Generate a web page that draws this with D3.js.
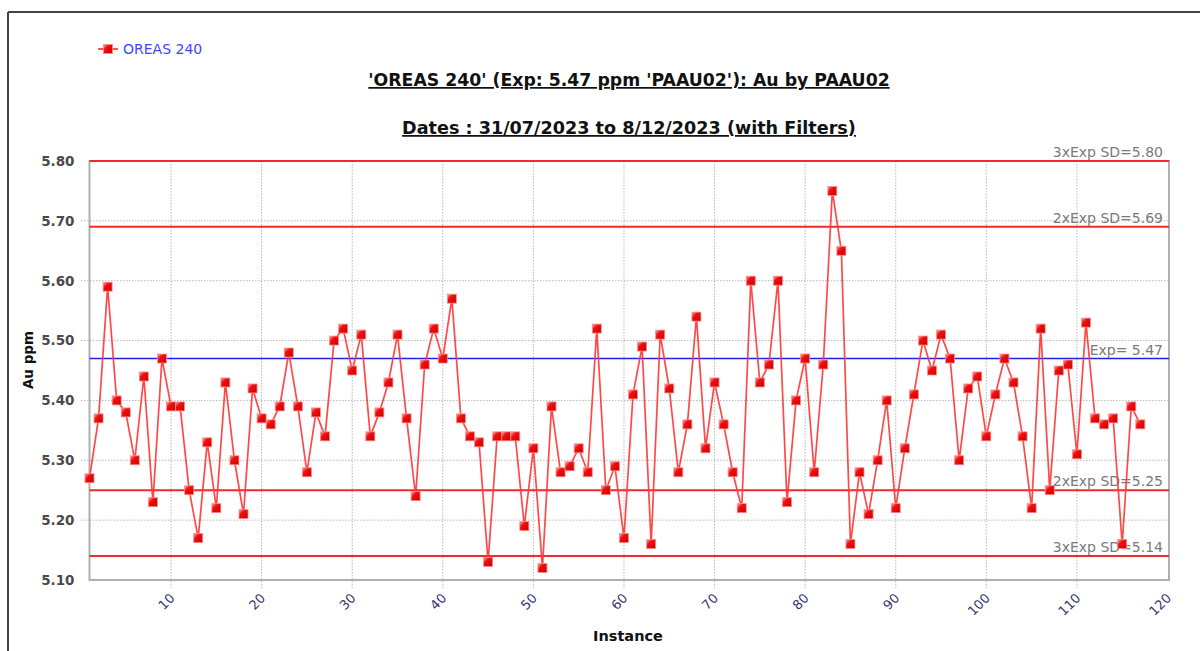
<!DOCTYPE html>
<html>
<head>
<meta charset="utf-8">
<script src="https://cdn.jsdelivr.net/npm/d3@7"></script>
<style>
  body { margin: 0; background: #fff; }
  svg { display: block; }
</style>
</head>
<body>
<div id="chart"></div>
<script>
// data
const seriesName = "OREAS 240";
const auValues = [
  5.27, 5.37, 5.59, 5.40, 5.38, 5.30, 5.44, 5.23, 5.47, 5.39,
  5.39, 5.25, 5.17, 5.33, 5.22, 5.43, 5.30, 5.21, 5.42, 5.37,
  5.36, 5.39, 5.48, 5.39, 5.28, 5.38, 5.34, 5.50, 5.52, 5.45,
  5.51, 5.34, 5.38, 5.43, 5.51, 5.37, 5.24, 5.46, 5.52, 5.47,
  5.57, 5.37, 5.34, 5.33, 5.13, 5.34, 5.34, 5.34, 5.19, 5.32,
  5.12, 5.39, 5.28, 5.29, 5.32, 5.28, 5.52, 5.25, 5.29, 5.17,
  5.41, 5.49, 5.16, 5.51, 5.42, 5.28, 5.36, 5.54, 5.32, 5.43,
  5.36, 5.28, 5.22, 5.60, 5.43, 5.46, 5.60, 5.23, 5.40, 5.47,
  5.28, 5.46, 5.75, 5.65, 5.16, 5.28, 5.21, 5.30, 5.40, 5.22,
  5.32, 5.41, 5.50, 5.45, 5.51, 5.47, 5.30, 5.42, 5.44, 5.34,
  5.41, 5.47, 5.43, 5.34, 5.22, 5.52, 5.25, 5.45, 5.46, 5.31,
  5.53, 5.37, 5.36, 5.37, 5.16, 5.39, 5.36
];
const instances = auValues.map((v, i) => i + 1);
const xTicks = [10, 20, 30, 40, 50, 60, 70, 80, 90, 100, 110, 120];
const yTicks = [5.10, 5.20, 5.30, 5.40, 5.50, 5.60, 5.70, 5.80];
const refValues = [5.80, 5.69, 5.47, 5.25, 5.14];
const refLabels = ["3xExp SD=5.80", "2xExp SD=5.69", "Exp= 5.47", "2xExp SD=5.25", "3xExp SD=5.14"];
const refKinds = ["sd", "sd", "exp", "sd", "sd"];
const titleLine1 = "'OREAS 240' (Exp: 5.47 ppm 'PAAU02'): Au by PAAU02";
const titleLine2 = "Dates : 31/07/2023 to 8/12/2023 (with Filters)";

const width = 1200, height = 651;
const margin = { left: 89.5, right: 31, top: 161, bottom: 71 };
const font = "Tahoma, 'DejaVu Sans', Verdana, sans-serif";

const svg = d3.select("#chart").append("svg")
  .attr("width", width)
  .attr("height", height)
  .attr("viewBox", [0, 0, width, height]);

const defs = svg.append("defs");
const grad = defs.append("linearGradient")
  .attr("id", "mk").attr("x1", 0).attr("y1", 0).attr("x2", 1).attr("y2", 1);
grad.append("stop").attr("offset", "0%").attr("stop-color", "#ffb0b0");
grad.append("stop").attr("offset", "35%").attr("stop-color", "#ee1010");
grad.append("stop").attr("offset", "100%").attr("stop-color", "#cc0000");

// outer border (top + left only are on screen)
svg.append("line").attr("x1", 8).attr("y1", 12).attr("x2", width).attr("y2", 12)
  .attr("stroke", "#444").attr("stroke-width", 2);
svg.append("line").attr("x1", 8).attr("y1", 12).attr("x2", 8).attr("y2", height)
  .attr("stroke", "#444").attr("stroke-width", 2);

const x = d3.scaleLinear().domain([1, 120]).range([margin.left, width - margin.right - 1.5]);
const y = d3.scaleLinear().domain([5.10, 5.80]).range([height - margin.bottom, margin.top]);
const plotRight = width - margin.right;

// gridlines
svg.append("g").selectAll("line.hg")
  .data(yTicks.slice(1, -1))
  .join("line")
  .attr("x1", 81).attr("x2", plotRight)
  .attr("y1", d => y(d)).attr("y2", d => y(d))
  .attr("stroke", "#b8b8b8").attr("stroke-dasharray", "1.5,1.5");
svg.append("g").selectAll("line.vg")
  .data(xTicks.slice(0, -1))
  .join("line")
  .attr("x1", d => x(d)).attr("x2", d => x(d))
  .attr("y1", y(5.80)).attr("y2", y(5.10) + 8)
  .attr("stroke", "#b8b8b8").attr("stroke-dasharray", "1.5,1.5");

// plot frame
svg.append("rect")
  .attr("x", margin.left).attr("y", margin.top)
  .attr("width", plotRight - margin.left).attr("height", y(5.10) - margin.top)
  .attr("fill", "none").attr("stroke", "#b0b0b0").attr("stroke-width", 2);

// y axis labels
const yAxis = d3.axisLeft(y).tickValues(yTicks).tickFormat(d3.format(".2f")).tickSize(0).tickPadding(15);
const gy = svg.append("g").attr("transform", `translate(${margin.left},0)`).call(yAxis);
gy.select(".domain").remove();
gy.selectAll("text")
  .attr("font-family", font).attr("font-size", 13.5).attr("font-weight", "bold")
  .attr("fill", "#4a4a4a");

// x axis labels, rotated
const xAxis = d3.axisBottom(x).tickValues(xTicks).tickSize(0).tickPadding(0);
const gx = svg.append("g").attr("transform", `translate(0,${y(5.10)})`).call(xAxis);
gx.select(".domain").remove();
gx.selectAll("text")
  .attr("font-family", font).attr("font-size", 13)
  .attr("fill", "#34346a")
  .attr("text-anchor", "end")
  .attr("dy", 0)
  .attr("transform", "translate(4,19) rotate(-45)");

// reference lines
svg.append("g").selectAll("line.ref")
  .data(refValues)
  .join("line")
  .attr("x1", margin.left).attr("x2", plotRight)
  .attr("y1", d => y(d)).attr("y2", d => y(d))
  .attr("stroke", (d, i) => refKinds[i] === "exp" ? "#2020ee" : "#ee2a2a")
  .attr("stroke-width", (d, i) => refKinds[i] === "exp" ? 1.6 : 2);
svg.append("g").selectAll("text.ref")
  .data(refValues)
  .join("text")
  .attr("x", plotRight - 6).attr("y", d => y(d) - 4)
  .attr("text-anchor", "end")
  .attr("font-family", font).attr("font-size", 14)
  .attr("fill", "#7a7a7a")
  .text((d, i) => refLabels[i]);

// series line + markers
const line = d3.line().x((d, i) => x(instances[i])).y(d => y(d));
svg.append("path")
  .datum(auValues)
  .attr("d", line)
  .attr("fill", "none")
  .attr("stroke", "#ff3535")
  .attr("stroke-opacity", 0.9)
  .attr("stroke-width", 1.7);
svg.append("g").selectAll("rect.pt")
  .data(auValues)
  .join("rect")
  .attr("x", (d, i) => x(instances[i]) - 4.5)
  .attr("y", d => y(d) - 4.5)
  .attr("width", 9).attr("height", 9)
  .attr("fill", "url(#mk)")
  .attr("stroke", "#ff8a8a").attr("stroke-width", 0.8);

// titles
svg.append("text")
  .attr("x", 629).attr("y", 86)
  .attr("text-anchor", "middle")
  .attr("font-family", font).attr("font-size", 17.3).attr("font-weight", "bold")
  .attr("fill", "#111").attr("text-decoration", "underline")
  .text(titleLine1);
svg.append("text")
  .attr("x", 629).attr("y", 134)
  .attr("text-anchor", "middle")
  .attr("font-family", font).attr("font-size", 17.6).attr("font-weight", "bold")
  .attr("fill", "#111").attr("text-decoration", "underline")
  .text(titleLine2);

// axis titles
svg.append("text")
  .attr("x", 628).attr("y", 641)
  .attr("text-anchor", "middle")
  .attr("font-family", font).attr("font-size", 14.5).attr("font-weight", "bold")
  .attr("fill", "#111")
  .text("Instance");
svg.append("text")
  .attr("transform", "translate(33,360) rotate(-90)")
  .attr("text-anchor", "middle")
  .attr("font-family", font).attr("font-size", 13.5).attr("font-weight", "bold")
  .attr("fill", "#111")
  .text("Au ppm");

// legend
const lg = svg.append("g").attr("transform", "translate(98,49)");
lg.append("line").attr("x1", 0).attr("x2", 20).attr("y1", 0).attr("y2", 0)
  .attr("stroke", "#ff3535").attr("stroke-width", 1.7);
lg.append("rect").attr("x", 5.5).attr("y", -4.5).attr("width", 9).attr("height", 9)
  .attr("fill", "url(#mk)").attr("stroke", "#ff8a8a").attr("stroke-width", 0.8);
lg.append("text").attr("x", 25).attr("y", 5)
  .attr("font-family", font).attr("font-size", 14)
  .attr("fill", "#4444ff")
  .text(seriesName);
</script>
</body>
</html>
